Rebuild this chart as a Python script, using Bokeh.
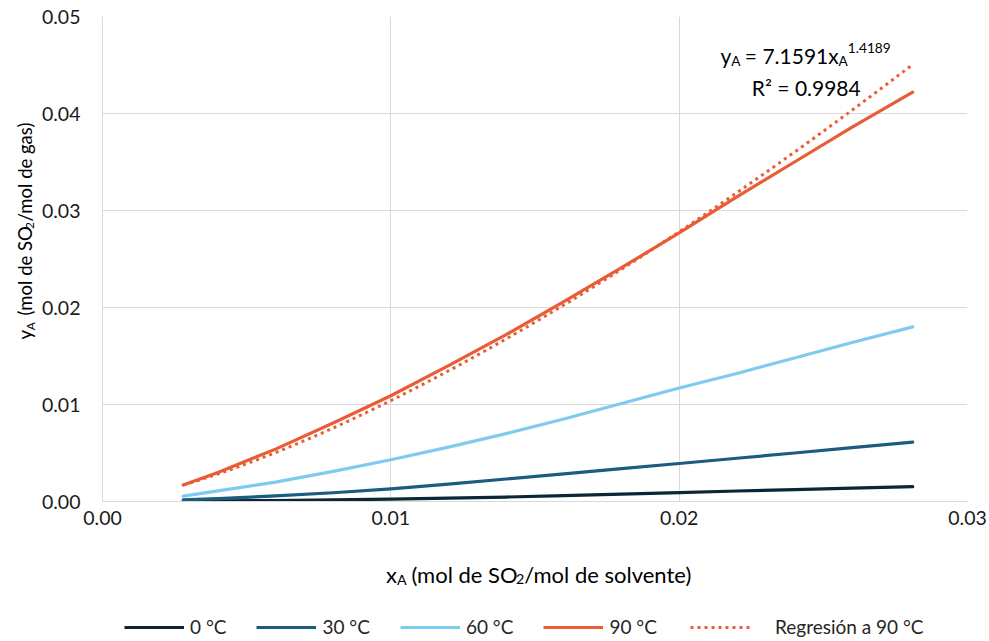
import math
import numpy as np
from bokeh.plotting import figure
from bokeh.layouts import column, row
from bokeh.models import Label, Legend, LegendItem, FixedTicker
from bokeh.core.properties import value
from bokeh.embed import file_html
from bokeh.resources import INLINE

# ---------------- data ----------------
x_A = [0.0028, 0.004, 0.006, 0.008, 0.010, 0.012, 0.014, 0.016, 0.018,
       0.020, 0.022, 0.024, 0.026, 0.0281]
y_0C = [0.00004, 0.00006, 0.00010, 0.00017, 0.00024, 0.00034, 0.00046,
        0.00060, 0.00076, 0.00092, 0.00108, 0.00122, 0.00137, 0.00153]
y_30C = [0.00017, 0.00030, 0.00058, 0.00090, 0.00130, 0.00180, 0.00232,
         0.00285, 0.00338, 0.00392, 0.00446, 0.00500, 0.00555, 0.00612]
y_60C = [0.00055, 0.00110, 0.00200, 0.00310, 0.00430, 0.00560, 0.00700,
         0.00850, 0.01010, 0.01170, 0.01320, 0.01480, 0.01640, 0.01800]
y_90C = [0.00170, 0.00300, 0.00540, 0.00810, 0.01090, 0.01400, 0.01720,
         0.02060, 0.02410, 0.02770, 0.03140, 0.03500, 0.03860, 0.04220]
series_labels = ["0 °C", "30 °C", "60 °C", "90 °C"]
trend_label = "Regresión a 90 °C"
trend_coef = 7.1591
trend_exp = 1.4189
trend_r2 = 0.9984

x_ticks = [0.0, 0.01, 0.02, 0.03]
x_tick_labels = ["0.00", "0.01", "0.02", "0.03"]
y_ticks = [0.0, 0.01, 0.02, 0.03, 0.04, 0.05]
y_tick_labels = ["0.00", "0.01", "0.02", "0.03", "0.04", "0.05"]

# ---------------- styling ----------------
FONT = "Lato"
colors = ["#0b2636", "#1b5d7f", "#7ecbef", "#e95c36"]
GRID = "#d9d9d9"
TXT = "#1a1a1a"

W_TOTAL, H_TOTAL = 989, 641
WY = 38          # width of the strip holding the y title
H_TOP = 545      # height of the row holding the plot
H_BOT = H_TOTAL - H_TOP


def blank(width, height):
    f = figure(width=width, height=height, x_range=(0, width), y_range=(0, height),
               output_backend="svg", toolbar_location=None,
               x_axis_location=None, y_axis_location=None,
               min_border_left=0, min_border_right=0, min_border_top=0,
               min_border_bottom=0)
    f.grid.visible = False
    f.outline_line_color = None
    f.background_fill_color = "white"
    f.border_fill_color = "white"
    return f


p = figure(width=W_TOTAL - WY, height=H_TOP, x_range=(0, 0.03), y_range=(0, 0.05),
           output_backend="svg", toolbar_location=None,
           min_border_left=62, min_border_right=22, min_border_top=16,
           min_border_bottom=44)
p.background_fill_color = "white"
p.border_fill_color = "white"
p.outline_line_color = None

p.xaxis.ticker = FixedTicker(ticks=x_ticks)
p.yaxis.ticker = FixedTicker(ticks=y_ticks)
p.xgrid.ticker = FixedTicker(ticks=x_ticks)
p.ygrid.ticker = FixedTicker(ticks=y_ticks)
p.xaxis.major_label_overrides = dict(zip(x_ticks, x_tick_labels))
p.yaxis.major_label_overrides = dict(zip(y_ticks, y_tick_labels))
for ax in (p.xaxis, p.yaxis):
    ax.major_tick_line_color = None
    ax.minor_tick_line_color = None
    ax.major_tick_out = 0
    ax.major_tick_in = 0
    ax.axis_line_color = GRID
    ax.axis_line_width = 1
    ax.major_label_text_font = FONT
    ax.major_label_text_font_size = "19.5px"
    ax.major_label_text_color = TXT
p.yaxis.major_label_standoff = 22
p.xaxis.major_label_standoff = 9
for g in (p.xgrid, p.ygrid):
    g.grid_line_color = GRID
    g.grid_line_width = 1

for ys, c in zip([y_0C, y_30C, y_60C, y_90C], colors):
    p.line(x_A, ys, line_color=c, line_width=3.2, line_join="round", line_cap="round")

xt = np.linspace(x_A[0], x_A[-1], 200)
yt = trend_coef * xt ** trend_exp
p.line(xt, yt, line_color=colors[3], line_width=3, line_dash="3 4")

# ---------------- rich text helper ----------------
W = {' ': 0.21, '(': 0.30, ')': 0.30, '/': 0.37, '=': 0.58, '.': 0.27,
     'A': 0.68, 'C': 0.66, 'O': 0.77, 'R': 0.60, 'S': 0.49, 'a': 0.49,
     'd': 0.56, 'e': 0.52, 'g': 0.50, 'l': 0.24, 'm': 0.84, 'n': 0.56,
     'o': 0.56, 's': 0.42, 't': 0.35, 'v': 0.51, 'x': 0.50, 'y': 0.51,
     '²': 0.37}


def tw(s, size):
    return sum(W.get(ch, 0.58) for ch in s) * size


def layout_pieces(pieces, size, sub_shift=0.22, sup_shift=0.36, wscale=1.0):
    spec = []
    for text, kind, gap in pieces:
        s = size if kind == "n" else size * 0.65
        shift = 0.0 if kind == "n" else (-sub_shift * size if kind == "sub" else sup_shift * size)
        spec.append((text, s, shift, gap * size, tw(text, s) * wscale))
    total = sum(g + w for _, _, _, g, w in spec)
    cum = -total / 2.0
    out = []
    for text, s, shift, g, w in spec:
        cum += g
        out.append((text, s, cum, shift))
        cum += w
    return out


def rich(fig, pieces, x, y, size, ax=0.0, ay=0.0, color="#000000"):
    """Horizontal rich text with Labels: (text, kind, gap_before_em)."""
    for text, s, along, shift in layout_pieces(pieces, size):
        fig.add_layout(Label(x=x, y=y, x_offset=ax + along, y_offset=ay + shift,
                             text=text, text_align="left",
                             text_baseline="alphabetic", text_font=FONT,
                             text_font_size=f"{s:.1f}px", text_color=color))


def rich_vertical(fig, pieces, x, y, size, color="#000000"):
    """Rotated (bottom-to-top) rich text, middle-aligned, in pixel data units."""
    for text, s, along, shift in layout_pieces(pieces, size, sub_shift=0.30, wscale=1.09):
        fig.text(x=[x - shift], y=[y + along], text=[text], angle=math.pi / 2,
                 text_align="left", text_baseline="middle",
                 text_font=value(FONT), text_font_size=f"{s:.1f}px",
                 text_color=color)


# trendline equation (inside the plot frame)
eq_x, eq_y = 0.02439, 0.04598
rich(p, [("y", "n", 0), ("A", "sub", 0), ("= %.4fx" % trend_coef, "n", 0.21),
         ("A", "sub", 0), ("%.4f" % trend_exp, "sup", 0)], eq_x, eq_y, 21)
rich(p, [("R² = %.4f" % trend_r2, "n", 0)], eq_x, eq_y, 21, ay=-31.7)

# ---------------- y title strip (pixel coordinates, y up) ----------------
yfig = blank(WY, H_TOP)
rich_vertical(yfig, [("y", "n", 0), ("A", "sub", 0), ("(mol de SO", "n", 0.42),
                     ("2", "sub", 0.12), ("/mol de gas)", "n", 0.05)],
              24, H_TOP - 244, 18.5)

# ---------------- bottom strip: x title + legend (pixel coordinates, y up) ----------------
bfig = blank(W_TOTAL, H_BOT)
rich(bfig, [("x", "n", 0), ("A", "sub", 0), ("(mol de SO", "n", 0.21), ("2", "sub", 0.05),
            ("/mol de solvente)", "n", 0)], 537, H_TOTAL - 574, 22)

# legend swatch renderers: a point far outside the strip so only the legend shows them
off = [-1000, -999]
items = []
for lab, c in zip(series_labels, colors):
    r = bfig.line(x=off, y=off, line_color=c, line_width=3.2)
    items.append(LegendItem(label=lab, renderers=[r]))
rt = bfig.line(x=off, y=off, line_color=colors[3], line_width=3, line_dash="3 4")

leg_style = dict(orientation="horizontal", glyph_width=60, glyph_height=20,
                 label_height=20, spacing=30, padding=0, margin=0,
                 border_line_color=None, background_fill_alpha=0,
                 label_text_font=FONT, label_text_font_size="19px",
                 label_text_color="#262626")
bfig.add_layout(Legend(items=items, location=(124, 3), label_standoff=6, **leg_style))
bfig.add_layout(Legend(items=[LegendItem(label=trend_label, renderers=[rt])],
                       location=(690, 3), label_standoff=25, **leg_style))

layout = column(row(yfig, p), bfig)
open("out.html", "w").write(file_html(layout, INLINE))
